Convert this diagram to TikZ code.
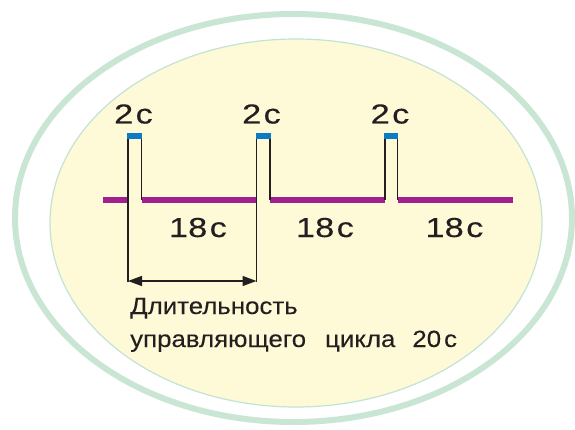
\documentclass[tikz,border=0pt]{standalone}
\usepackage{fontspec}
\setmainfont{Liberation Sans}
\newfontfamily\widefont[FakeStretch=1.1,FakeBold=0.15]{Liberation Sans}
\newfontfamily\numfont[FakeStretch=1.25,FakeBold=0.15]{Liberation Sans}
\usetikzlibrary{arrows.meta}
\definecolor{ringc}{HTML}{C9E5D3}
\definecolor{fieldc}{HTML}{FEF9D7}
\definecolor{edgec}{HTML}{C2E4D4}
\definecolor{purplec}{HTML}{A1208E}
\definecolor{bluec}{HTML}{0A7CC4}
\definecolor{inkc}{HTML}{231F20}
\tikzset{
  signal/.style={purplec, line width=6pt, line cap=butt},
  edge/.style={inkc, line width=1.5pt, line cap=butt},
  pulsecap/.style={fill=bluec, draw=none},
  numlabel/.style={inner sep=0pt, anchor=base, text=inkc, font=\numfont\fontsize{27.5}{30}\selectfont},
  caption/.style={inner sep=0pt, anchor=base west, text=inkc, font=\widefont\fontsize{23.5}{27}\selectfont},
  span/.style={inkc, line width=1.5pt, {Triangle[length=14pt,width=10pt]}-{Triangle[length=14pt,width=10pt]}}
}
\begin{document}
\begin{tikzpicture}[x=1pt,y=-1pt]
\useasboundingbox (0,0) rectangle (575,430);
\fill[white] (0,0) rectangle (575,430);
% rings
\draw[ringc, line width=6pt] (293.5,218) ellipse [x radius=278.5, y radius=204];
\filldraw[fill=fieldc, draw=edgec, line width=1.2pt] (296,223) ellipse [x radius=246, y radius=184];
% key points
\coordinate (s0) at (103,200);
\coordinate (a1) at (128,200);   \coordinate (b1) at (141.5,200);
\coordinate (a2) at (256.5,200); \coordinate (b2) at (270,200);
\coordinate (a3) at (385,200);   \coordinate (b3) at (397.5,200);
\coordinate (s1) at (513,200);
\coordinate (t1a) at (128,135);   \coordinate (t1b) at (141.5,135);
\coordinate (t2a) at (256.5,135); \coordinate (t2b) at (270,135);
\coordinate (t3a) at (385,135);   \coordinate (t3b) at (397.5,135);
\coordinate (d1) at (128,282);    \coordinate (d2) at (256.5,282);
\coordinate (m1) at (128,281);    \coordinate (m2) at (256.5,281);
% signal line
\draw[signal] (s0) -- (a1);
\draw[signal] (b1) -- (a2);
\draw[signal] (b2) -- (a3);
\draw[signal] (b3) -- (s1);
% pulses
\draw[edge] (t1a) -- (d1);
\draw[edge] (t1b) -- (b1);
\draw[edge] (t2a) -- (d2);
\draw[edge] (t2b) -- (b2);
\draw[edge] (t3a) -- (a3);
\draw[edge] (t3b) -- (b3);
\fill[pulsecap] (127.3,133) rectangle (142.2,139);
\fill[pulsecap] (255.8,133) rectangle (270.7,139);
\fill[pulsecap] (384.3,133) rectangle (398.2,139);
% span arrow
\draw[span] (m1) -- (m2);
% labels
\node[numlabel] (l1) at (133.5,123.5) {2\kern2.5pt с};
\node[numlabel] (l2) at (261.5,123.5) {2\kern2.5pt с};
\node[numlabel] (l3) at (390,123.5) {2\kern2.5pt с};
\node[numlabel] (g1) at (198,237) {18\kern2.5pt с};
\node[numlabel] (g2) at (325,237) {18\kern2.5pt с};
\node[numlabel] (g3) at (454.5,237) {18\kern2.5pt с};
\node[caption] (c1) at (130,314) {Длительность};
\node[caption] (c2) at (130,347) {управляющего\hspace{19pt}цикла\hspace{17pt}20\kern3pt с};
\end{tikzpicture}
\end{document}
